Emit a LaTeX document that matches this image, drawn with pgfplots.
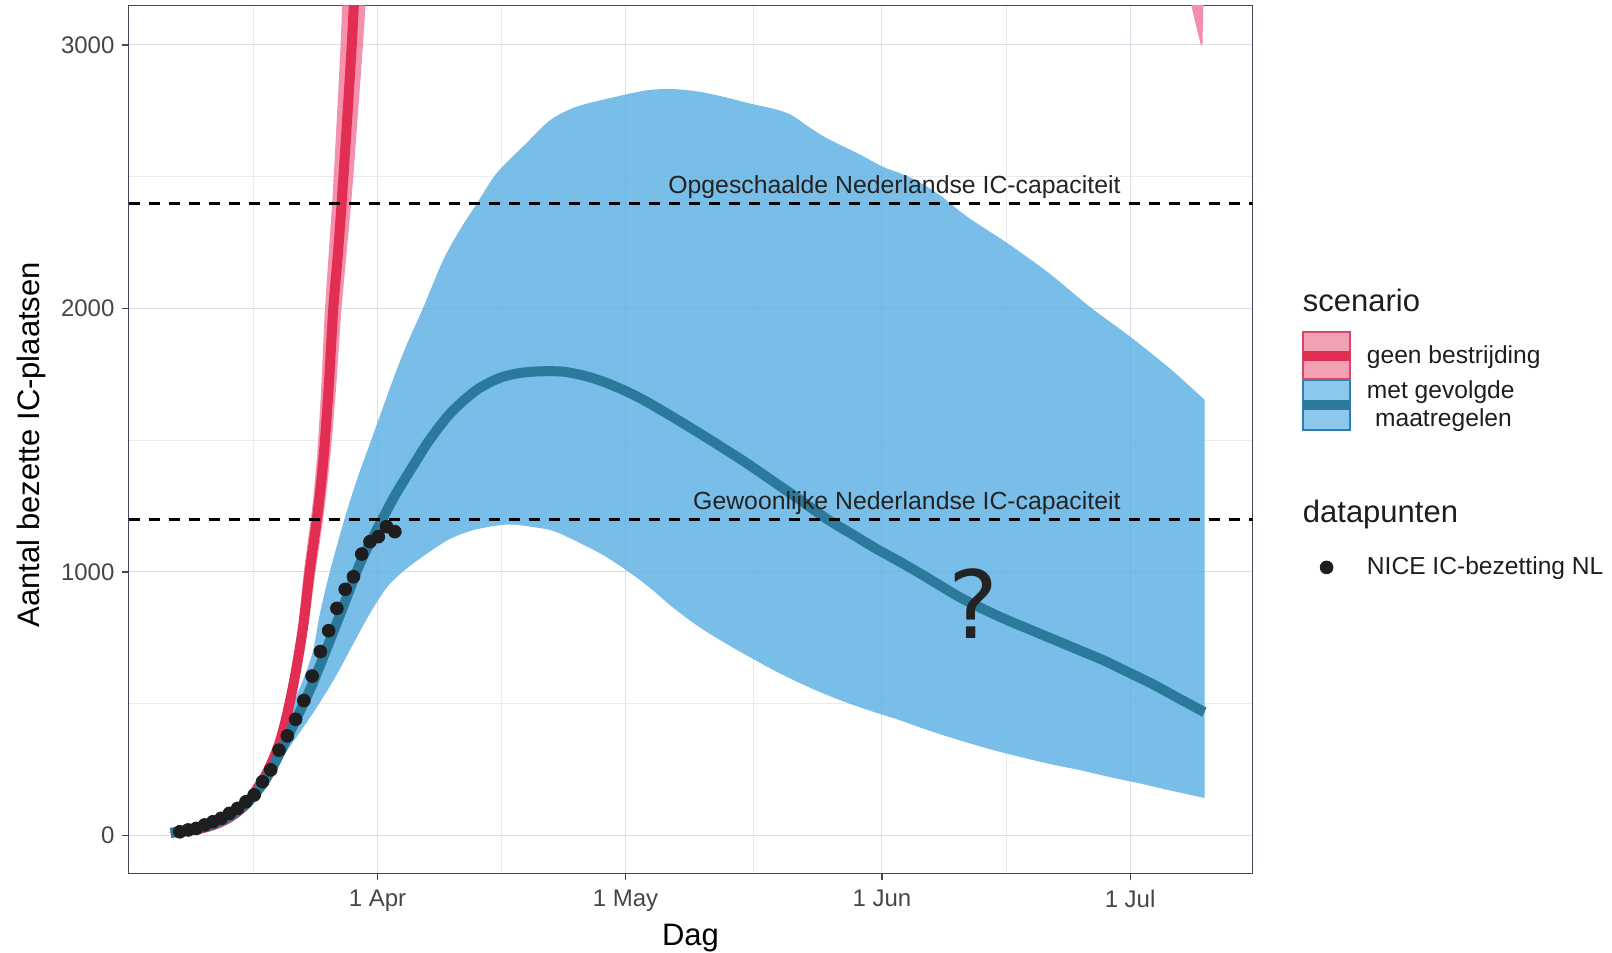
\documentclass[border=0pt]{standalone}
\usepackage{fontspec}
\setmainfont{Liberation Sans}
\newfontfamily\djv{DejaVu Sans}
\usepackage{pgfplots}
\pgfplotsset{compat=1.18}
\usepgfplotslibrary{fillbetween}

\definecolor{ribbonblue}{RGB}{86,174,226}
\definecolor{lineblue}{RGB}{44,122,155}
\definecolor{redline}{RGB}{226,46,82}
\definecolor{redband}{RGB}{240,110,145}
\definecolor{pinksliver}{RGB}{242,140,178}
\definecolor{gridc}{RGB}{222,222,232}
\definecolor{gridm}{RGB}{234,234,240}
\definecolor{framec}{RGB}{70,70,90}
\definecolor{tickc}{RGB}{70,70,70}
\definecolor{dotc}{RGB}{30,30,30}
\definecolor{annc}{RGB}{35,35,35}
\definecolor{keyredfill}{RGB}{242,160,180}
\definecolor{keyredborder}{RGB}{215,70,100}
\definecolor{keybluefill}{RGB}{140,200,236}
\definecolor{keyblueborder}{RGB}{45,125,180}

\pgfplotsset{
 redkey/.style={legend image code/.code={\filldraw[fill=keyredfill, draw=keyredborder, line width=0.8pt] (0.4pt,-11.7pt) rectangle (23.8pt,11.7pt); \draw[redline, line width=5pt] (0.4pt,0pt) -- (23.8pt,0pt);}},
 bluekey/.style={legend image code/.code={\filldraw[fill=keybluefill, draw=keyblueborder, line width=0.8pt] (0.4pt,-12.3pt) rectangle (23.8pt,12.3pt); \draw[lineblue, line width=5pt] (0.4pt,0pt) -- (23.8pt,0pt);}},
 spacerkey/.style={legend image code/.code={\path[draw=none, fill=none] (0pt,-28.2pt) rectangle (1pt,28.2pt);}},
 dotkey/.style={legend image code/.code={\path[draw=none, fill=none] (0pt,-12pt) rectangle (24.2pt,12pt); \fill[dotc] (12.25pt,0pt) circle[radius=3.2pt];}},
}

\begin{document}
\begin{tikzpicture}
\path (0,0) rectangle (806pt,476.5pt);
\begin{axis}[
  name=ax,
  at={(64.25pt,39.85pt)}, anchor=south west,
  scale only axis, width=562pt, height=433.8pt,
  xmin=-30.1, xmax=105.8, ymin=-143.5, ymax=3149,
  xtick={0,30,61,91}, xticklabels={1 Apr,1 May,1 Jun,1 Jul},
  ytick={0,1000,2000,3000}, yticklabels={0,1000,2000,3000},
  minor xtick={-15,15,45.5,76}, minor ytick={500,1500,2500},
  grid=both,
  major grid style={draw=gridc, line width=0.5pt},
  minor grid style={draw=gridm, line width=0.4pt},
  tick pos=left, tick align=outside,
  major tick length=3.5pt, minor tick length=0pt,
  tick style={draw=framec, line width=0.6pt},
  axis line style={draw=framec, line width=0.6pt},
  /pgf/number format/assume math mode=true,
  ticklabel style={font=\fontsize{12}{14}\selectfont, text=tickc},
  xticklabel style={yshift=-1.5pt},
  xlabel={Dag}, ylabel={Aantal bezette IC-plaatsen},
  label style={font=\fontsize{15.5}{18}\selectfont, text=black, inner sep=0pt},
  xlabel style={at={(axis description cs:0.5,-0.0833)}, anchor=base},
  ylabel style={at={(axis description cs:-0.0867,0.494)}, anchor=center},
  legend style={at={(1,1)}, anchor=north west, xshift=22.5pt, yshift=-162.65pt,
    draw=none, fill=none, inner sep=0pt, row sep=0pt, column sep=6.1pt,
    nodes={inner sep=0pt, text=dotc, font=\fontsize{12.3}{14}\selectfont},
    cells={anchor=west, align=left}},
]

% blue ribbon
\addplot[name path=bup, draw=none, forget plot, smooth] coordinates {
(-25,10) (-22,25) (-20,45) (-18,78) (-16,135) (-14.5,205) (-13.4,274) (-12,365)
(-10.6,470) (-9,590) (-7.8,700) (-6.95,843) (-5.7,1008) (-3.9,1210) (-2.5,1349)
(-1,1480) (0.5,1610) (2,1740) (3.5,1860) (5.5,2001) (7.95,2184)
(10,2300) (12,2397) (14.4,2513) (18,2627) (20.9,2715) (24.1,2766) (28.9,2804)
(32.8,2829) (36,2832) (39,2822) (42,2802) (45,2778) (48,2757) (50,2735) (52,2692)
(54,2652) (56,2620) (58.1,2588) (61.1,2538) (63.2,2513)
(65.2,2485) (68,2430) (71.3,2348) (76.2,2247) (81.2,2134) (86.1,2007) (91,1893)
(96,1767) (100,1653)};
\addplot[name path=blo, draw=none, forget plot, smooth] coordinates {
(-25,8) (-22,20) (-19,52) (-16,115) (-13,228) (-10.6,337) (-7.8,464) (-5.3,590)
(-3.1,717) (-0.9,843) (1.1,940) (3.1,1002) (5.9,1068) (8.8,1126) (11.6,1159)
(14.4,1176) (16,1180) (17.6,1176) (20.9,1159) (23.3,1128) (26.9,1071) (29,1030)
(31.2,982) (33.4,928) (35.6,868) (38.5,800)
(41.4,742) (45,677) (48.6,616) (52.2,562) (55.9,514) (59.5,474) (63.1,438)
(66.7,398) (70.3,362) (74,328) (77.6,299) (81.2,272) (84.8,249) (88.5,222)
(92.1,198) (95.7,172) (99.3,147) (100,142)};
\addplot[ribbonblue, fill opacity=0.8, draw=none, forget plot] fill between[of=bup and blo];

% red ribbon
\addplot[name path=rup, draw=none, forget plot, smooth] coordinates {
(-25.4,10) (-22.4,22) (-20.4,38) (-18.4,66) (-16.4,115) (-14.9,180) (-13.85,236)
(-12.5,337) (-11.5,450) (-10.55,600) (-9.6,790) (-8.9,1000) (-7.95,1230) (-7.3,1440)
(-6.8,1700) (-6.34,2000) (-5.48,2400) (-4.95,2700) (-4.47,2993) (-4.15,3250)};
\addplot[name path=rlo, draw=none, forget plot, smooth] coordinates {
(-24.6,10) (-21.6,22) (-19.6,38) (-17.6,66) (-15.6,115) (-14.1,180) (-12.95,236)
(-11.5,337) (-10.5,450) (-9.45,600) (-8.4,790) (-7.5,1000) (-6.45,1230) (-5.7,1440)
(-5.0,1700) (-4.34,2000) (-3.18,2400) (-2.45,2700) (-1.77,2993) (-1.25,3250)};
\addplot[redband, fill opacity=0.75, draw=none, forget plot] fill between[of=rup and rlo];
\addplot[name path=sa, draw=none, forget plot] coordinates {(97.24,3300) (99.95,3300)};
\addplot[name path=sb, draw=none, forget plot] coordinates {(99.55,3000) (99.75,3000)};
\addplot[pinksliver, draw=none, forget plot] fill between[of=sa and sb];

% red line
\addplot[redline, line width=5pt, smooth, forget plot] coordinates {
(-25,10) (-22,22) (-20,38) (-18,66) (-16,115) (-14.5,180) (-13.4,236) (-12,337)
(-11,450) (-10,600) (-9,790) (-8.2,1000) (-7.2,1230) (-6.5,1440) (-5.9,1700)
(-5.34,2000) (-4.8,2200) (-4.33,2400) (-3.7,2700) (-3.12,2993) (-2.7,3250)};

% blue centre line
\addplot[lineblue, line width=5pt, smooth, forget plot] coordinates {
(-25,10) (-22,24) (-20,42) (-18,70) (-16,115) (-15,150) (-14,190) (-13,240) (-12,300)
(-10,430) (-8,565) (-6,720) (-4,880) (-2,1040) (0,1165) (1,1225) (2.2,1295)
(3.5,1362) (4.8,1428) (6,1488) (7.4,1548) (8.8,1602) (10.4,1650) (12,1691)
(13.6,1720) (15.2,1741) (17,1754) (18.8,1760) (20.6,1762) (22.5,1760) (24.3,1750)
(26.1,1735) (27.9,1715) (29.7,1691) (31.3,1667) (32.9,1640) (35.6,1590) (38.5,1535)
(41.4,1478) (44.3,1420) (47.2,1358) (50.8,1280) (54.4,1200) (57.3,1145) (60.2,1090)
(62.8,1045) (65.3,1000) (67.8,953) (70.3,906) (73.2,860) (76.1,818) (79,780)
(81.9,742) (84.8,704) (87.7,666) (90.6,622) (93.5,578) (96.5,527) (99.5,476) (100,468)};

% capacity lines
\addplot[black, line width=1.5pt, dash pattern=on 5.5pt off 4.5pt, forget plot] coordinates {(-30.1,2400) (105.8,2400)};
\addplot[black, line width=1.5pt, dash pattern=on 5.5pt off 4.5pt, forget plot] coordinates {(-30.1,1200) (105.8,1200)};

% data points
\addplot[only marks, mark=*, mark size=3.2pt, dotc, forget plot] coordinates {
(-23.9,14) (-22.9,21) (-21.9,27) (-20.9,40) (-19.9,52) (-18.9,65) (-17.9,84)
(-16.9,103) (-15.9,128) (-14.9,154) (-13.9,204) (-12.9,249) (-11.9,324) (-10.9,378)
(-9.9,441) (-8.9,512) (-7.9,605) (-6.9,698) (-5.9,777) (-4.9,862) (-3.9,934)
(-2.9,982) (-1.9,1068) (-0.9,1115) (0.1,1134) (1.1,1172) (2.1,1153)};

\node[anchor=base east, yshift=5pt, text=annc, font=\fontsize{12.4}{14}\selectfont] at (axis cs:90.7,2400) {Opgeschaalde Nederlandse IC-capaciteit};
\node[anchor=base east, yshift=5pt, text=annc, font=\fontsize{12.4}{14}\selectfont] at (axis cs:90.7,1200) {Gewoonlijke Nederlandse IC-capaciteit};
\node[text=annc, font=\djv\fontsize{47}{50}\selectfont, inner sep=0pt] at (axis cs:72,879) {?};

% legend
\addlegendimage{redkey}
\addlegendentry{geen bestrijding}
\addlegendimage{bluekey}
\addlegendentry{met gevolgde\\\hspace*{4.1pt}maatregelen}
\addlegendimage{spacerkey}
\addlegendentry{}
\addlegendimage{dotkey}
\addlegendentry{NICE IC-bezetting NL}
\end{axis}
% legend titles
\node[anchor=base west, inner sep=0pt, text=dotc, font=\fontsize{15.5}{18}\selectfont, xshift=25pt, yshift=-152.9pt] at (ax.north east) {scenario};
\node[anchor=base west, inner sep=0pt, text=dotc, font=\fontsize{15.5}{18}\selectfont, xshift=25pt, yshift=-258.2pt] at (ax.north east) {datapunten};
\end{tikzpicture}
\end{document}
